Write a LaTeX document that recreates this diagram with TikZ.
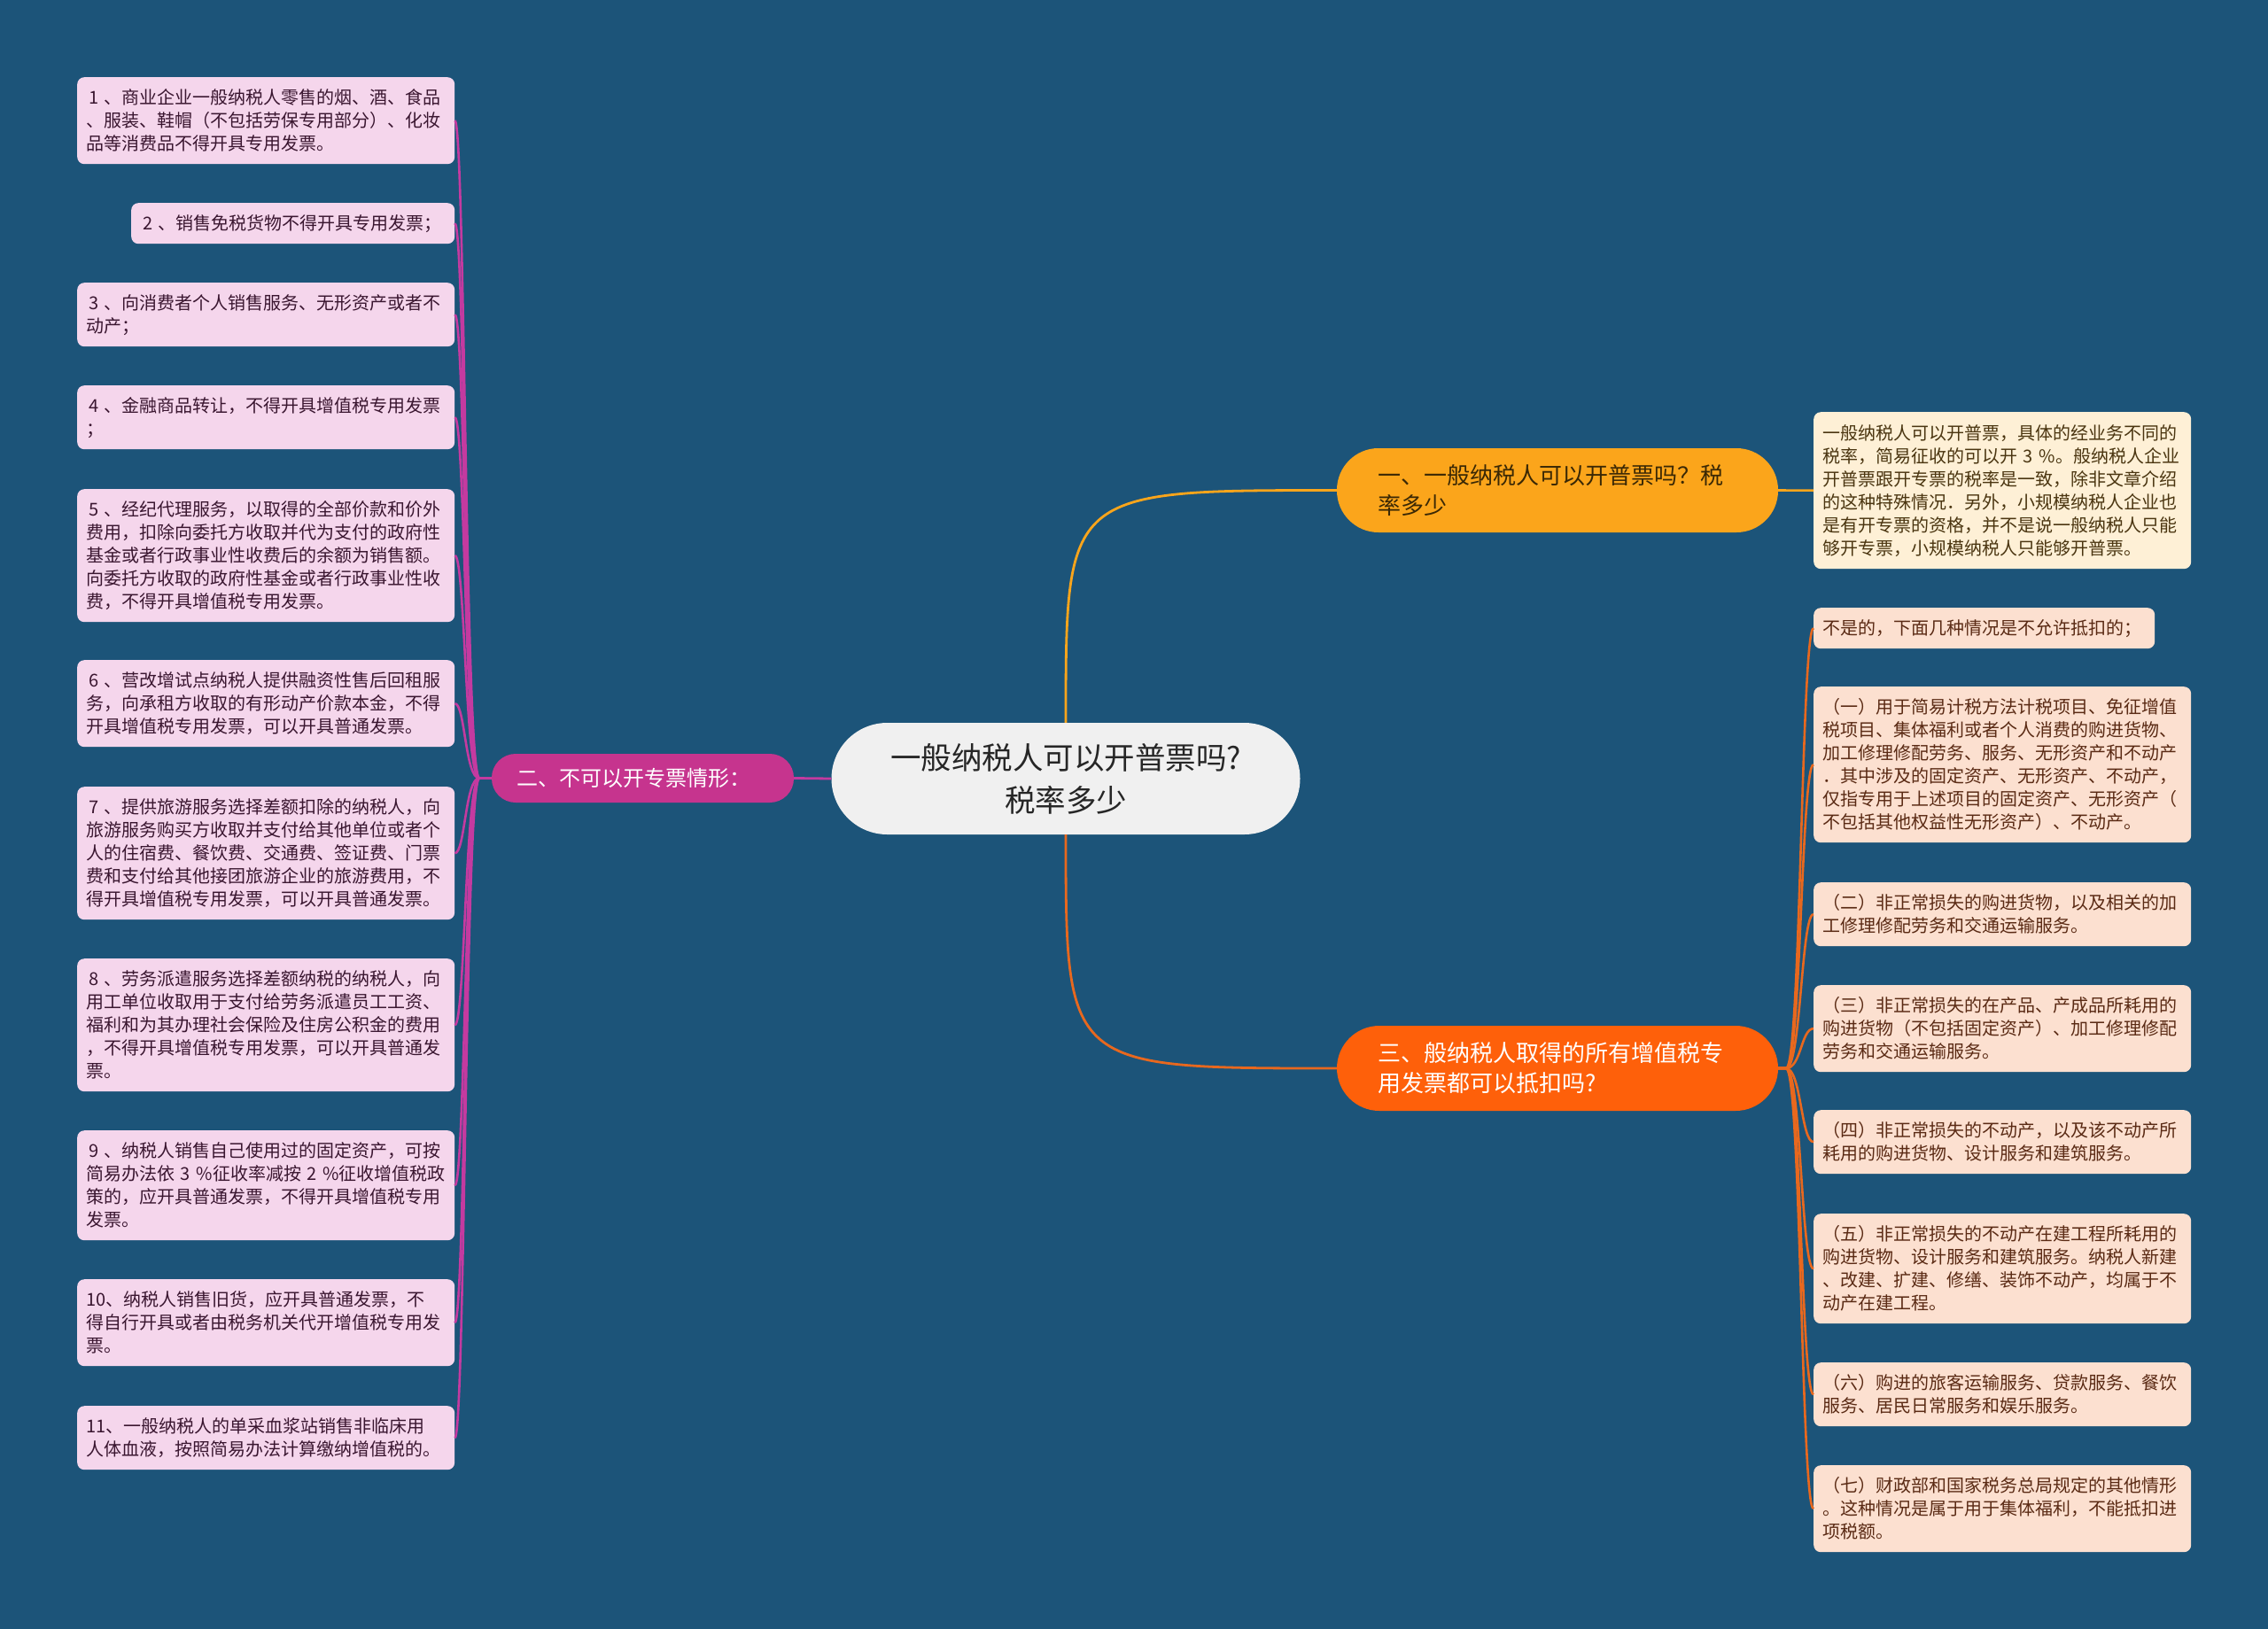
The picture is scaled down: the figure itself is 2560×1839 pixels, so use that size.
\documentclass[tikz,border=0pt]{standalone}
\usepackage{fontspec}
\newfontfamily\cjk{Noto Sans CJK SC}
\definecolor{bg}{RGB}{28,84,121}
\definecolor{leafpink}{RGB}{245,214,236}
\definecolor{leafptxt}{RGB}{58,22,48}
\definecolor{cream}{RGB}{254,240,214}
\definecolor{creamtxt}{RGB}{74,53,16}
\definecolor{peach}{RGB}{252,224,208}
\definecolor{peachtxt}{RGB}{90,42,20}
\definecolor{bAfill}{RGB}{251,165,27}
\definecolor{bAtxt}{RGB}{58,40,5}
\definecolor{bBfill}{RGB}{198,52,142}
\definecolor{bCfill}{RGB}{254,96,10}
\definecolor{centerfill}{RGB}{240,240,240}
\definecolor{lineL}{RGB}{196,58,160}
\definecolor{lineR}{RGB}{232,104,30}
\definecolor{lineA}{RGB}{251,165,27}
\begin{document}
\begin{tikzpicture}[x=1pt,y=-1pt,
  leafbase/.style={rounded corners=8pt, font=\cjk\fontsize{20}{26}\selectfont, align=left,
    inner xsep=10pt, inner ysep=2pt, anchor=north west, minimum width=426pt, text width=406pt},
  leafL/.style={leafbase, fill=leafpink, text=leafptxt},
  leafC/.style={leafbase, fill=cream, text=creamtxt},
  leafR/.style={leafbase, fill=peach, text=peachtxt},
  branchbox/.style={align=left, inner ysep=2pt, font=\cjk\fontsize{26}{34}\selectfont},
  lconn/.style={draw=lineL, line width=2.6pt},
  rconn/.style={draw=lineR, line width=2.6pt},
]
\fill[bg] (0,0) rectangle (2560,1839);
\useasboundingbox (0,0) rectangle (2560,1839);

% central node
\node[fill=centerfill, rounded corners=63pt, minimum width=529pt, minimum height=126pt,
  align=center, text=black!85, font=\cjk\fontsize{34.5}{48}\selectfont] (c) at (1203,879)
  {一般纳税人可以开普票吗?\\税率多少};

% main branches
\node[branchbox, fill=bAfill, text=bAtxt, rounded corners=47pt, minimum width=498pt,
  minimum height=95pt, inner xsep=46pt, text width=406pt] (b1) at (1758,553.5)
  {一、一般纳税人可以开普票吗？税\\率多少};
\node[branchbox, fill=bBfill, text=white, rounded corners=27pt, minimum width=341pt,
  minimum height=55pt, inner xsep=28pt, text width=285pt, font=\cjk\fontsize{24}{30}\selectfont] (b2) at (725.5,878.5)
  {二、不可以开专票情形：};
\node[branchbox, fill=bCfill, text=white, rounded corners=48pt, minimum width=498pt,
  minimum height=96pt, inner xsep=46pt, text width=406pt] (b3) at (1758,1206)
  {三、般纳税人取得的所有增值税专\\用发票都可以抵扣吗?};

% left leaves
\node[leafL, minimum height=98pt] (l1) at (87,87)
  {\hspace*{3pt}1 、商业企业一般纳税人零售的烟、酒、食品\\、服装、鞋帽（不包括劳保专用部分）、化妆\\品等消费品不得开具专用发票。};
\node[leafL, minimum height=46pt, minimum width=365pt, text width=345pt] (l2) at (148,229)
  {\hspace*{3pt}2 、销售免税货物不得开具专用发票；};
\node[leafL, minimum height=72pt] (l3) at (87,319)
  {\hspace*{3pt}3 、向消费者个人销售服务、无形资产或者不\\动产；};
\node[leafL, minimum height=72pt] (l4) at (87,435)
  {\hspace*{3pt}4 、金融商品转让，不得开具增值税专用发票\\；};
\node[leafL, minimum height=150pt] (l5) at (87,552)
  {\hspace*{3pt}5 、经纪代理服务，以取得的全部价款和价外\\费用，扣除向委托方收取并代为支付的政府性\\基金或者行政事业性收费后的余额为销售额。\\向委托方收取的政府性基金或者行政事业性收\\费，不得开具增值税专用发票。};
\node[leafL, minimum height=98pt] (l6) at (87,745)
  {\hspace*{3pt}6 、营改增试点纳税人提供融资性售后回租服\\务，向承租方收取的有形动产价款本金，不得\\开具增值税专用发票，可以开具普通发票。};
\node[leafL, minimum height=150pt] (l7) at (87,888)
  {\hspace*{3pt}7 、提供旅游服务选择差额扣除的纳税人，向\\旅游服务购买方收取并支付给其他单位或者个\\人的住宿费、餐饮费、交通费、签证费、门票\\费和支付给其他接团旅游企业的旅游费用，不\\得开具增值税专用发票，可以开具普通发票。};
\node[leafL, minimum height=150pt] (l8) at (87,1082)
  {\hspace*{3pt}8 、劳务派遣服务选择差额纳税的纳税人，向\\用工单位收取用于支付给劳务派遣员工工资、\\福利和为其办理社会保险及住房公积金的费用\\，不得开具增值税专用发票，可以开具普通发\\票。};
\node[leafL, minimum height=124pt] (l9) at (87,1276)
  {\hspace*{3pt}9 、纳税人销售自己使用过的固定资产，可按\\简易办法依 3 \%征收率减按 2 \%征收增值税政\\策的，应开具普通发票，不得开具增值税专用\\发票。};
\node[leafL, minimum height=98pt] (l10) at (87,1444)
  {10、纳税人销售旧货，应开具普通发票，不\\得自行开具或者由税务机关代开增值税专用发\\票。};
\node[leafL, minimum height=72pt] (l11) at (87,1587)
  {11、一般纳税人的单采血浆站销售非临床用\\人体血液，按照简易办法计算缴纳增值税的。};

% right leaves
\node[leafC, minimum height=177pt] (r1) at (2047,465)
  {一般纳税人可以开普票，具体的经业务不同的\\税率，简易征收的可以开 3 \%。般纳税人企业\\开普票跟开专票的税率是一致，除非文章介绍\\的这种特殊情况．另外，小规模纳税人企业也\\是有开专票的资格，并不是说一般纳税人只能\\够开专票，小规模纳税人只能够开普票。};
\node[leafR, minimum height=46pt, minimum width=385pt, text width=365pt] (r2) at (2047,686)
  {不是的，下面几种情况是不允许抵扣的；};
\node[leafR, minimum height=176pt] (r3) at (2047,775)
  {（一）用于简易计税方法计税项目、免征增值\\税项目、集体福利或者个人消费的购进货物、\\加工修理修配劳务、服务、无形资产和不动产\\．其中涉及的固定资产、无形资产、不动产，\\仅指专用于上述项目的固定资产、无形资产（\\不包括其他权益性无形资产）、不动产。};
\node[leafR, minimum height=72pt] (r4) at (2047,996)
  {（二）非正常损失的购进货物，以及相关的加\\工修理修配劳务和交通运输服务。};
\node[leafR, minimum height=98pt] (r5) at (2047,1112)
  {（三）非正常损失的在产品、产成品所耗用的\\购进货物（不包括固定资产）、加工修理修配\\劳务和交通运输服务。};
\node[leafR, minimum height=72pt] (r6) at (2047,1253)
  {（四）非正常损失的不动产，以及该不动产所\\耗用的购进货物、设计服务和建筑服务。};
\node[leafR, minimum height=124pt] (r7) at (2047,1370)
  {（五）非正常损失的不动产在建工程所耗用的\\购进货物、设计服务和建筑服务。纳税人新建\\、改建、扩建、修缮、装饰不动产，均属于不\\动产在建工程。};
\node[leafR, minimum height=72pt] (r8) at (2047,1538)
  {（六）购进的旅客运输服务、贷款服务、餐饮\\服务、居民日常服务和娱乐服务。};
\node[leafR, minimum height=98pt] (r9) at (2047,1654)
  {（七）财政部和国家税务总局规定的其他情形\\。这种情况是属于用于集体福利，不能抵扣进\\项税额。};

% main connectors
\draw[draw=lineA, line width=2.8pt] (c.north) .. controls (c.north |- b1.west) .. (b1.west);
\draw[draw=lineR, line width=2.8pt] (c.south) .. controls (c.south |- b3.west) .. (b3.west);
\draw[draw=lineL, line width=2.8pt] (c.west) -- (b2.east);
\draw[draw=lineA, line width=2.6pt] (b1.east) -- (r1.west);

% left fan
\coordinate (lj0) at (541,878.5);
\coordinate (lj) at (525,878.5);
\foreach \n in {l1,l2,l3,l4,l5,l6,l7,l8,l9,l10,l11}{
  \draw[lconn] (b2.west) -- (lj0) .. controls (lj) and (lj |- \n.east) .. (\n.east);
}
% right fan
\coordinate (rj0) at (2016,1206);
\coordinate (rj) at (2033,1206);
\foreach \n in {r2,r3,r4,r5,r6,r7,r8,r9}{
  \draw[rconn] (b3.east) -- (rj0) .. controls (rj) and (rj |- \n.west) .. (\n.west);
}
\end{tikzpicture}
\end{document}
